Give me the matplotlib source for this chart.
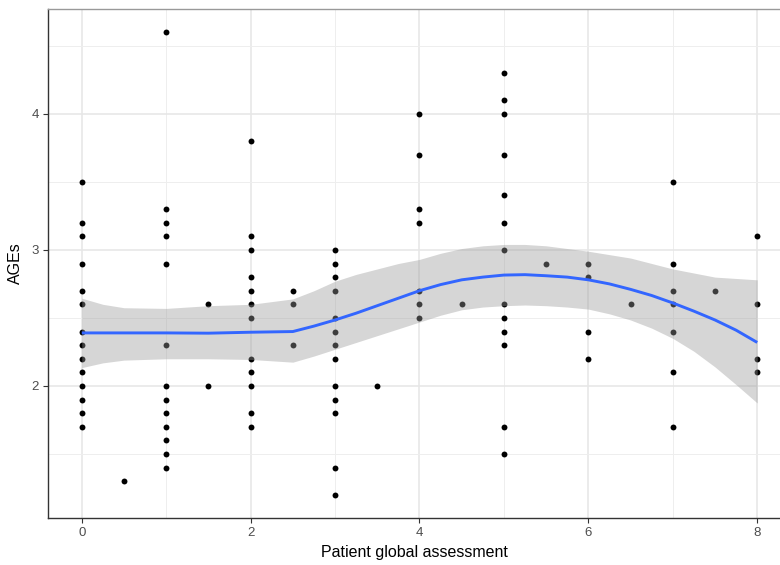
import matplotlib
matplotlib.use("Agg")
import matplotlib.pyplot as plt
from matplotlib.ticker import MultipleLocator

plt.rcParams["font.family"] = ["Liberation Sans", "DejaVu Sans"]

# ---- scatter data (Patient global assessment vs AGEs) ----
pga_0 = [3.5, 3.2, 3.1, 2.9, 2.7, 2.6, 2.4, 2.3, 2.2, 2.1, 2.0, 1.9, 1.8, 1.7]
pga_05 = [1.3]
pga_1 = [4.6, 3.3, 3.2, 3.1, 2.9, 2.3, 2.0, 1.9, 1.8, 1.7, 1.6, 1.5, 1.4]
pga_15 = [2.6, 2.0]
pga_2 = [3.8, 3.1, 3.0, 2.8, 2.7, 2.6, 2.5, 2.2, 2.1, 2.0, 1.8, 1.7]
pga_25 = [2.7, 2.6, 2.3]
pga_3 = [3.0, 2.9, 2.8, 2.7, 2.5, 2.4, 2.3, 2.2, 2.0, 1.9, 1.8, 1.4, 1.2]
pga_35 = [2.0]
pga_4 = [4.0, 3.7, 3.3, 3.2, 2.7, 2.6, 2.5]
pga_45 = [2.6]
pga_5 = [4.3, 4.1, 4.0, 3.7, 3.4, 3.2, 3.0, 2.6, 2.5, 2.4, 2.3, 1.7, 1.5]
pga_55 = [2.9]
pga_6 = [2.9, 2.8, 2.4, 2.2]
pga_65 = [2.6]
pga_7 = [3.5, 2.9, 2.7, 2.6, 2.4, 2.1, 1.7]
pga_75 = [2.7]
pga_8 = [3.1, 2.6, 2.2, 2.1]

groups = {0: pga_0, 0.5: pga_05, 1: pga_1, 1.5: pga_15, 2: pga_2, 2.5: pga_25,
          3: pga_3, 3.5: pga_35, 4: pga_4, 4.5: pga_45, 5: pga_5, 5.5: pga_55,
          6: pga_6, 6.5: pga_65, 7: pga_7, 7.5: pga_75, 8: pga_8}

# ---- loess smooth ----
smooth_x = [0, 0.25, 0.5, 1, 1.5, 2, 2.5, 2.75, 3, 3.25, 3.5, 3.75, 4, 4.25, 4.5,
            4.75, 5, 5.25, 5.5, 5.75, 6, 6.25, 6.5, 6.75, 7, 7.25, 7.5, 7.75, 8]
smooth_y = [2.39, 2.39, 2.39, 2.39, 2.388, 2.395, 2.40, 2.44, 2.485, 2.535, 2.59, 2.645,
            2.70, 2.745, 2.78, 2.80, 2.815, 2.818, 2.81, 2.80, 2.78, 2.75, 2.71, 2.665,
            2.61, 2.55, 2.485, 2.41, 2.32]
smooth_hi = [2.645, 2.60, 2.575, 2.57, 2.59, 2.60, 2.64, 2.70, 2.77, 2.82, 2.86, 2.90,
             2.93, 2.975, 3.01, 3.03, 3.04, 3.04, 3.03, 3.01, 2.99, 2.965, 2.94, 2.90,
             2.86, 2.83, 2.80, 2.79, 2.78]
smooth_lo = [2.135, 2.17, 2.19, 2.20, 2.20, 2.195, 2.175, 2.22, 2.27, 2.32, 2.37, 2.42,
             2.47, 2.52, 2.56, 2.58, 2.59, 2.595, 2.59, 2.58, 2.565, 2.53, 2.485, 2.425,
             2.35, 2.255, 2.14, 2.01, 1.875]

x_ticks = [0, 2, 4, 6, 8]
y_ticks = [2, 3, 4]

fig = plt.figure(figsize=(7.8, 5.65), dpi=100)
ax = fig.add_axes([48 / 780, 47 / 565, 1 - 48 / 780, 509 / 565])

xs, ys = [], []
for k, vals in groups.items():
    xs += [k] * len(vals)
    ys += vals
ax.scatter(xs, ys, s=18, color="black", linewidths=0, zorder=3)

ax.fill_between(smooth_x, smooth_lo, smooth_hi, color="#999999", alpha=0.4,
                linewidth=0, zorder=4)
ax.plot(smooth_x, smooth_y, color="#3366FF", linewidth=2.1, zorder=5,
        solid_capstyle="butt")

ax.set_xlim(-0.4, 8.27)
ax.set_ylim(1.03, 4.77)
ax.set_xticks(x_ticks)
ax.set_yticks(y_ticks)
ax.xaxis.set_minor_locator(MultipleLocator(1))
ax.yaxis.set_minor_locator(MultipleLocator(0.5))
ax.grid(which="major", color="#e6e6e6", linewidth=1.1, zorder=0)
ax.grid(which="minor", color="#eeeeee", linewidth=0.7, zorder=0)
ax.set_axisbelow(True)
ax.tick_params(which="minor", length=0)
ax.tick_params(which="major", length=3.5, width=0.8, color="#333333",
               labelcolor="#4d4d4d", labelsize=9.5, pad=3)
for side in ["left", "bottom", "top"]:
    ax.spines[side].set_color("#333333")
    ax.spines[side].set_linewidth(1.0)
ax.spines["top"].set_color("#999999")
ax.spines["right"].set_visible(False)

ax.set_xlabel("Patient global assessment", fontsize=11.5, color="black", labelpad=4)
ax.set_ylabel("AGEs", fontsize=11.5, color="black", labelpad=6)

fig.savefig("out.png", dpi=100)
